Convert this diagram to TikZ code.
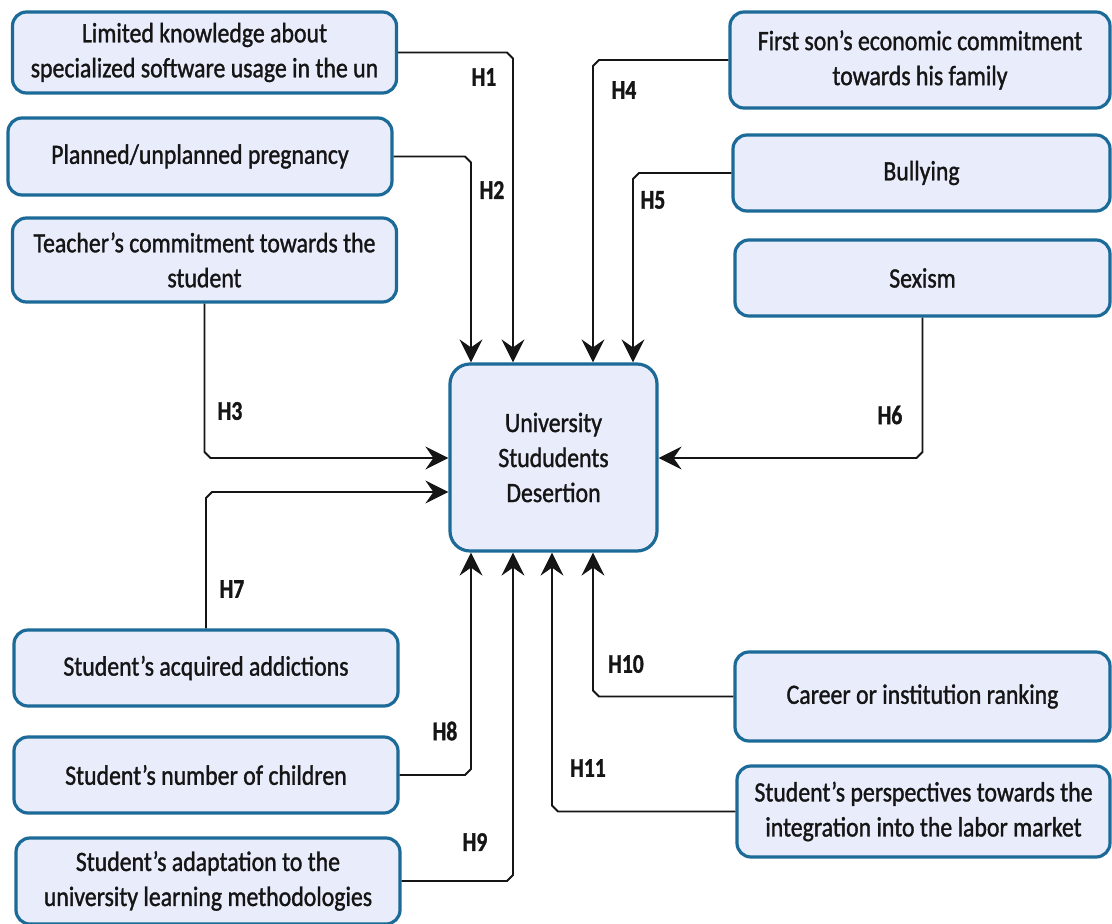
\documentclass[tikz,border=0pt]{standalone}
\usepackage{fontspec}
\setmainfont{Carlito}[FakeStretch=0.85,FakeBold=1.2,BoldFeatures={FakeStretch=0.8}]
\usetikzlibrary{arrows.meta,calc}
\definecolor{boxblue}{HTML}{1C6A98}
\definecolor{boxfill}{HTML}{E9EDFB}
\definecolor{txt}{HTML}{151515}
\begin{document}
\begin{tikzpicture}[x=1pt,y=-1pt,
  box/.style={draw=boxblue, line width=3.2pt, fill=boxfill, rounded corners=14pt,
    align=center, font=\fontsize{28}{35}\selectfont, inner sep=0pt, text=txt},
  lbox/.style={box, minimum width=384pt},
  rbox/.style={box, minimum width=378pt},
  conn/.style={line width=1.9pt, draw=txt, -{Stealth[length=23pt,width=23pt,inset=8pt]}},
  lbl/.style={font=\bfseries\fontsize{27}{27}\selectfont, text=txt, inner sep=0pt}]
\fill[white] (0,0) rectangle (1112,924);
\useasboundingbox (0,0) rectangle (1112,924);

% center
\node[box, minimum width=207pt, minimum height=187pt, rounded corners=20pt,
  font=\fontsize{28}{35}\selectfont] (c) at (553.5,457.5) {University\\Stududents\\Desertion};

% left boxes
\node[lbox, minimum height=81pt] (b1) at (204.5,52.5) {Limited knowledge about\\specialized software usage in the un};
\node[lbox, minimum height=77pt] (b2) at (200,156.5) {Planned/unplanned pregnancy};
\node[lbox, minimum height=84pt] (b3) at (204.5,260) {Teacher’s commitment towards the\\student};
\node[lbox, minimum height=76pt] (b7) at (206,668) {Student’s acquired addictions};
\node[lbox, minimum height=76pt] (b8) at (206,775) {Student’s number of children};
\node[lbox, minimum height=86pt] (b9) at (208,881) {Student’s adaptation to the\\university learning methodologies};

% right boxes
\node[rbox, minimum height=96pt, minimum width=380pt] (b4) at (920,60) {First son’s economic commitment\\towards his family};
\node[rbox, minimum height=76pt, minimum width=377pt] (b5) at (921.5,173) {Bullying};
\node[rbox, minimum height=76pt, minimum width=375pt] (b6) at (922.5,278) {Sexism};
\node[rbox, minimum height=89pt, minimum width=375pt] (b10) at (922.5,696.5) {Career or institution ranking};
\node[rbox, minimum height=91pt, minimum width=373pt] (b11) at (923.5,811.5) {Student’s perspectives towards the\\integration into the labor market};

% helper coordinates
\coordinate (xa) at (471,0);
\coordinate (xb) at (513,0);
\coordinate (xc) at (552,0);
\coordinate (xd) at (593,0);
\coordinate (xe) at (633,0);
\coordinate (ya) at (0,458);
\coordinate (yb) at (0,492);

% top connectors
\draw[conn] (b1.east) -- ($(b1.east -| xb)+(-6,0)$) -- ($(b1.east -| xb)+(0,6)$) -- (c.north -| xb);
\draw[conn] (b2.east) -- ($(b2.east -| xa)+(-6,0)$) -- ($(b2.east -| xa)+(0,6)$) -- (c.north -| xa);
\draw[conn] (b4.west) -- ($(b4.west -| xd)+(6,0)$) -- ($(b4.west -| xd)+(0,6)$) -- (c.north -| xd);
\draw[conn] (b5.west) -- ($(b5.west -| xe)+(6,0)$) -- ($(b5.west -| xe)+(0,6)$) -- (c.north -| xe);

% side connectors
\draw[conn] (b3.south) -- ($(b3.south |- ya)+(0,-6)$) -- ($(b3.south |- ya)+(6,0)$) -- (c.west |- ya);
\draw[conn] (b7.north) -- ($(b7.north |- yb)+(0,6)$) -- ($(b7.north |- yb)+(6,0)$) -- (c.west |- yb);
\draw[conn] (b6.south) -- ($(b6.south |- ya)+(0,-6)$) -- ($(b6.south |- ya)+(-6,0)$) -- (c.east |- ya);

% bottom connectors
\draw[conn] (b8.east) -- ($(b8.east -| xa)+(-6,0)$) -- ($(b8.east -| xa)+(0,-6)$) -- (c.south -| xa);
\draw[conn] (b9.east) -- ($(b9.east -| xb)+(-6,0)$) -- ($(b9.east -| xb)+(0,-6)$) -- (c.south -| xb);
\draw[conn] (b10.west) -- ($(b10.west -| xd)+(6,0)$) -- ($(b10.west -| xd)+(0,-6)$) -- (c.south -| xd);
\draw[conn] (b11.west) -- ($(b11.west -| xc)+(6,0)$) -- ($(b11.west -| xc)+(0,-6)$) -- (c.south -| xc);

% labels
\node[lbl] (h1) at (484,77) {H1};
\node[lbl] (h2) at (492,190) {H2};
\node[lbl] (h3) at (230,411) {H3};
\node[lbl] (h4) at (624,90) {H4};
\node[lbl] (h5) at (653,200) {H5};
\node[lbl] (h6) at (890,415) {H6};
\node[lbl] (h7) at (232,589) {H7};
\node[lbl] (h8) at (445,731) {H8};
\node[lbl] (h9) at (475,842) {H9};
\node[lbl] (h10) at (626,664) {H10};
\node[lbl] (h11) at (588,768) {H11};
\end{tikzpicture}
\end{document}
